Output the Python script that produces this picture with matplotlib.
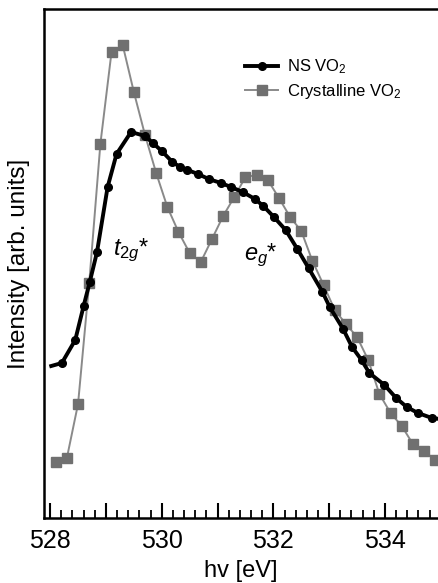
import matplotlib
matplotlib.use('Agg')
import matplotlib.pyplot as plt
from matplotlib.ticker import MultipleLocator, FuncFormatter

plt.rcParams['font.family'] = ['Liberation Sans', 'DejaVu Sans']
plt.rcParams['mathtext.fontset'] = 'custom'
plt.rcParams['mathtext.rm'] = 'Liberation Sans'
plt.rcParams['mathtext.it'] = 'Liberation Sans:italic'
plt.rcParams['mathtext.default'] = 'regular'

# NS VO2 (black circles)
ns_x = [528.02, 528.21, 528.45, 528.60, 528.71, 528.84, 529.03, 529.19, 529.45,
        529.70, 529.84, 530.00, 530.19, 530.33, 530.46, 530.65, 530.84, 531.06,
        531.24, 531.45, 531.67, 531.82, 532.01, 532.22, 532.43, 532.63, 532.88,
        533.01, 533.25, 533.41, 533.58, 533.72, 533.99, 534.20, 534.39, 534.59,
        534.84, 534.98]
ns_y = [1.52, 1.55, 1.78, 2.12, 2.36, 2.66, 3.31, 3.64, 3.86,
        3.82, 3.75, 3.67, 3.56, 3.51, 3.48, 3.44, 3.39, 3.35,
        3.31, 3.26, 3.19, 3.12, 3.01, 2.88, 2.69, 2.50, 2.26,
        2.11, 1.89, 1.71, 1.58, 1.45, 1.33, 1.20, 1.11, 1.05,
        1.00, 0.99]

# Crystalline VO2 (gray squares)
cr_x = [528.1, 528.3, 528.5, 528.7, 528.9, 529.1, 529.3, 529.5, 529.7, 529.9,
        530.1, 530.3, 530.5, 530.7, 530.9, 531.1, 531.3, 531.5, 531.7, 531.9,
        532.1, 532.3, 532.5, 532.7, 532.9, 533.1, 533.3, 533.5, 533.7, 533.9,
        534.1, 534.3, 534.5, 534.7, 534.9]
cr_y = [0.56, 0.60, 1.14, 2.35, 3.74, 4.66, 4.73, 4.26, 3.83, 3.45,
        3.11, 2.86, 2.65, 2.56, 2.79, 3.02, 3.21, 3.41, 3.43, 3.38,
        3.20, 3.01, 2.87, 2.57, 2.33, 2.08, 1.94, 1.81, 1.58, 1.24,
        1.05, 0.92, 0.74, 0.67, 0.58]

fig = plt.figure(figsize=(4.38, 5.83), dpi=100)
ax = fig.add_axes([44/438, 65/583, 394/438, 509/583])

ax.plot(ns_x, ns_y, '-o', color='black', lw=2.8, ms=5.5,
        markevery=list(range(1, len(ns_x) - 1)), label='NS VO$_2$', zorder=3)
ax.plot(cr_x, cr_y, '-s', color='#8a8a8a', lw=1.4, ms=6.8,
        mfc='#707070', mec='#707070', label='Crystalline VO$_2$', zorder=2)

ax.text(529.12, 2.68, r'$\mathit{t}_{\mathit{2g}}$*', fontsize=17, ha='left', va='center')
ax.text(531.48, 2.63, r'$\mathit{e}_{\mathit{g}}$*', fontsize=17, ha='left', va='center')

ax.set_xlim(527.89, 534.95)
ax.set_ylim(0, 5.09)

ax.spines['right'].set_visible(False)
for s in ['left', 'top', 'bottom']:
    ax.spines[s].set_linewidth(1.8)

ax.xaxis.set_major_locator(MultipleLocator(1))
ax.xaxis.set_minor_locator(MultipleLocator(0.2))
ax.xaxis.set_major_formatter(FuncFormatter(lambda v, p: f'{v:.0f}' if round(v) % 2 == 0 else ''))
ax.tick_params(axis='x', which='major', direction='in', length=11, width=1.5,
               labelsize=18, pad=8)
ax.tick_params(axis='x', which='minor', direction='in', length=6, width=1.3)
ax.set_yticks([])

ax.set_xlabel('hv [eV]', fontsize=17, labelpad=5)
ax.set_ylabel('Intensity [arb. units]', fontsize=17.5, labelpad=10)

ax.legend(loc='upper left', bbox_to_anchor=(0.51, 0.905), frameon=False,
          fontsize=12, handlelength=2.0, handletextpad=0.5, labelspacing=0.35,
          borderpad=0, borderaxespad=0)

fig.savefig('out.png', dpi=100)
